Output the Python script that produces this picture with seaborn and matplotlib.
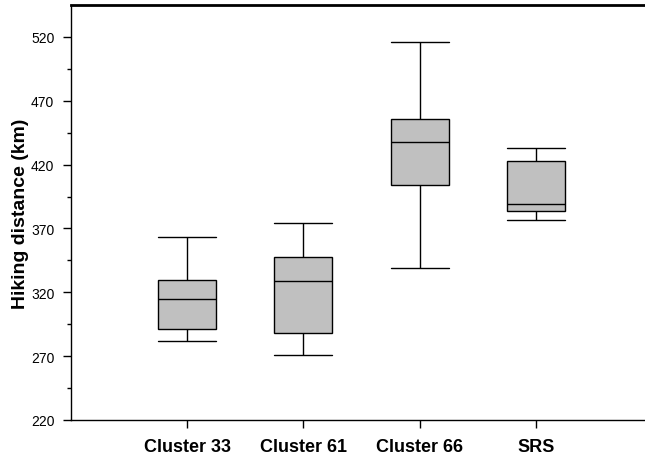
import numpy as np
import pandas as pd
import seaborn as sns
import matplotlib.pyplot as plt

# five values per group: min, Q1, median, Q3, max
groups = ['Cluster 33', 'Cluster 61', 'Cluster 66', 'SRS']
cluster33 = [282, 291, 315, 330, 363]
cluster61 = [271, 288, 329, 348, 374]
cluster66 = [339, 404, 438, 456, 516]
srs = [377, 384, 389, 423, 433]

y_major = np.arange(220, 521, 50)
y_minor = np.arange(245, 521, 50)

data = pd.DataFrame({
    'group': np.repeat(groups, 5),
    'distance': cluster33 + cluster61 + cluster66 + srs,
})

sns.set_style('ticks', {'text.color': 'black', 'axes.labelcolor': 'black',
                        'xtick.color': 'black', 'ytick.color': 'black',
                        'axes.edgecolor': 'black'})
plt.rcParams['font.family'] = ['Liberation Sans', 'DejaVu Sans']

fig = plt.figure(figsize=(6.45, 4.64), dpi=100)
ax = fig.add_axes([71 / 645, 43 / 464, 574 / 645, 415 / 464])

sns.boxplot(data=data, x='group', y='distance', order=groups, ax=ax,
            width=0.5, whis=(0, 100), color='#c0c0c0', linecolor='black',
            linewidth=1, capwidths=0.5, saturation=1)

ax.set_ylim(220, 545)
ax.set_xlim(-1.0, 3.94)
ax.set_yticks(y_major)
ax.set_yticks(y_minor, minor=True)
ax.set_xticks(range(len(groups)))
ax.set_xticklabels(groups, fontsize=13, fontweight='bold', color='black')
ax.tick_params(axis='y', labelsize=10, length=6, width=1, pad=6, colors='black')
ax.tick_params(axis='y', which='minor', length=3, width=1)
ax.tick_params(axis='x', length=6, width=1, pad=7, colors='black')

ax.set_xlabel('')
ax.set_ylabel('Hiking distance (km)', fontsize=14, fontweight='bold',
              labelpad=1, color='black')

ax.spines['right'].set_visible(False)
ax.spines['top'].set_linewidth(2)
ax.spines['left'].set_linewidth(1)
ax.spines['bottom'].set_linewidth(1)

fig.savefig('out.png', dpi=100)
